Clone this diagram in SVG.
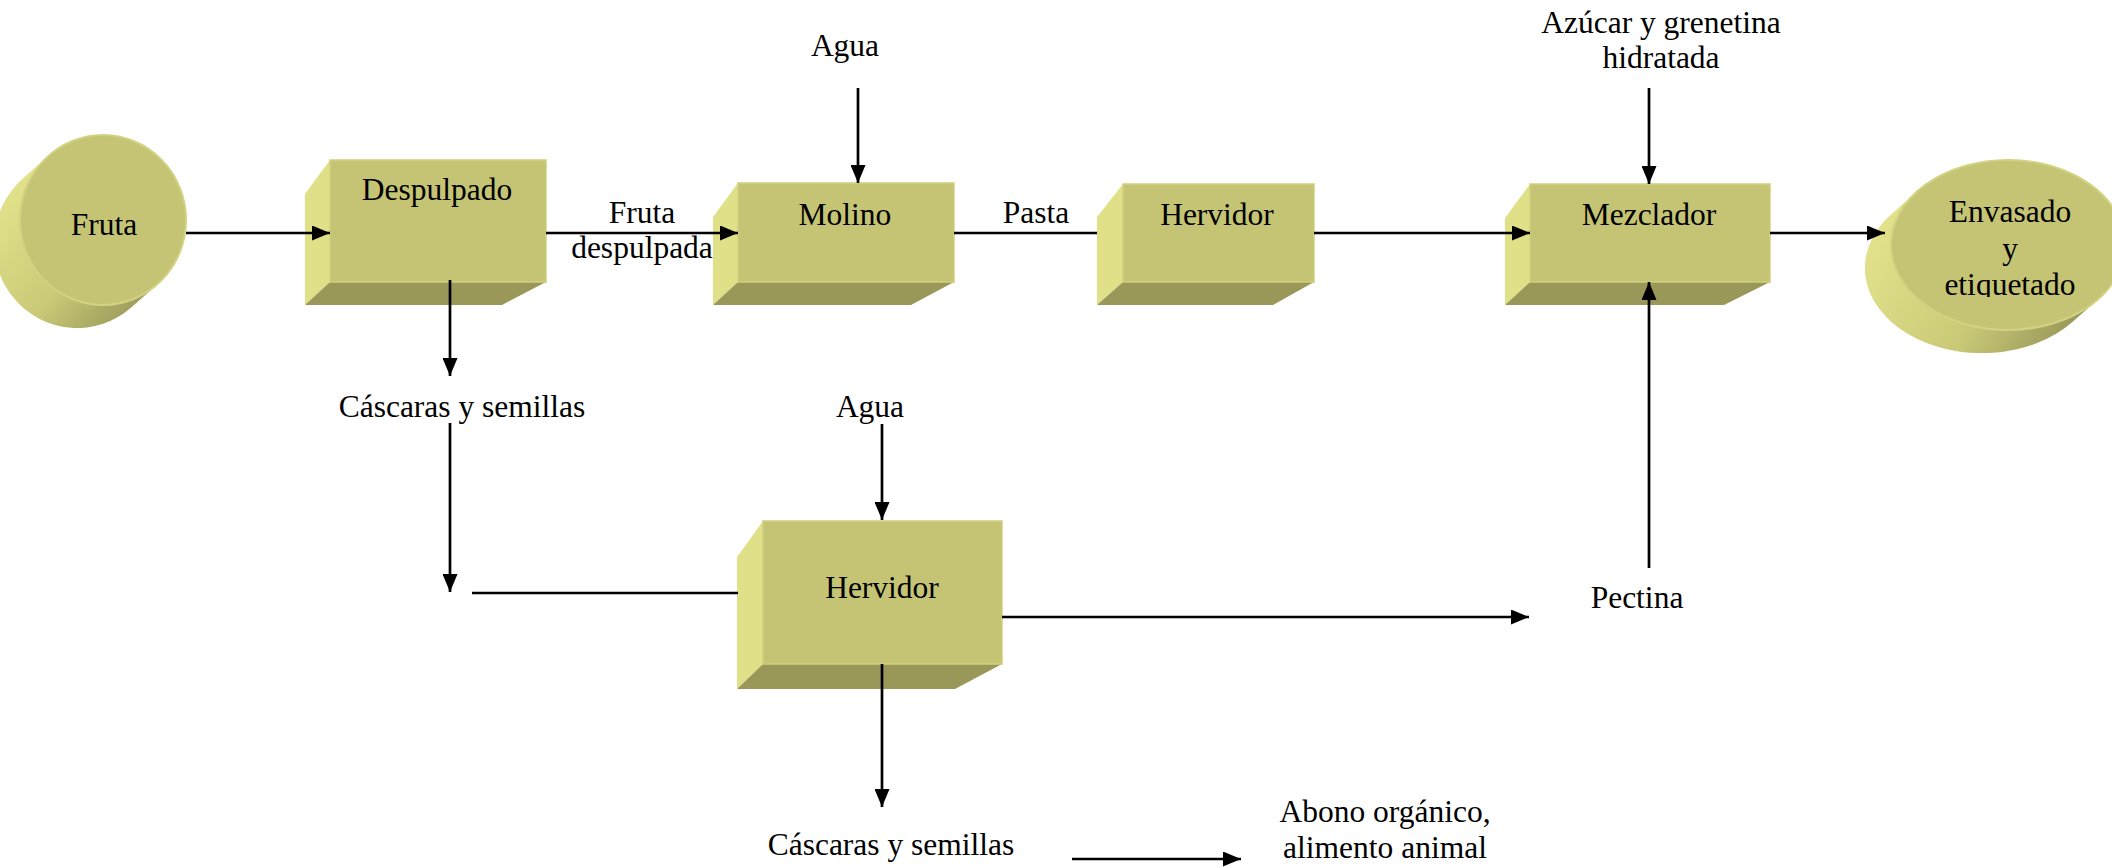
<svg xmlns="http://www.w3.org/2000/svg" width="2112" height="868" viewBox="0 0 2112 868">
  <style>
    text { font-family: "Liberation Serif", "Times New Roman", serif; font-size: 31.5px; fill: #000; text-anchor: middle; }
    .front { fill: #C4C474; stroke: #CFD07E; stroke-width: 1.5; }
    .left { fill: #E0E089; }
    .bottom { fill: #9A9858; }
    .cyl-front { fill: #C4C474; stroke: #D2D382; stroke-width: 2; }
    .conn { stroke: #000; stroke-width: 2.7; fill: none; }
    .arrow { marker-end: url(#head); }
  </style>
  <defs>
    <marker id="head" markerUnits="userSpaceOnUse" markerWidth="18" markerHeight="15" refX="18" refY="7.5" orient="auto">
      <path d="M0,0 L18,7.5 L0,15 Z" fill="#000"/>
    </marker>
    <linearGradient id="sideFruta" gradientUnits="userSpaceOnUse" x1="10" y1="190" x2="150" y2="315">
      <stop offset="0" stop-color="#E2E28C"/>
      <stop offset="0.55" stop-color="#C9C977"/>
      <stop offset="1" stop-color="#959357"/>
    </linearGradient>
    <linearGradient id="sideEnvasado" gradientUnits="userSpaceOnUse" x1="1880" y1="225" x2="2080" y2="335">
      <stop offset="0" stop-color="#E2E28C"/>
      <stop offset="0.55" stop-color="#C9C977"/>
      <stop offset="1" stop-color="#959357"/>
    </linearGradient>
    <clipPath id="envasadoText">
      <rect x="1890" y="150" width="222" height="147"/>
    </clipPath>
  </defs>

  <!-- Start: fruit cylinder -->
  <g id="fruta">
    <path d="M48.8,155.6 L22.8,178.6 A83,85 0 1 0 131.2,307.4 L157.2,284.4 Z" fill="url(#sideFruta)"/>
    <ellipse class="cyl-front" cx="103" cy="220" rx="83" ry="85"/>
    <text x="104" y="235">Fruta</text>
  </g>

  <g id="despulpado">
    <polygon class="left" points="330,160 305,194 305,305 330,282"/>
    <polygon class="bottom" points="330,282 546,282 502,305 305,305"/>
    <rect class="front" x="330" y="160" width="216" height="122"/>
    <text x="437" y="200">Despulpado</text>
  </g>

  <g id="molino">
    <polygon class="left" points="738,183 713,217 713,305 738,282"/>
    <polygon class="bottom" points="738,282 954,282 911,305 713,305"/>
    <rect class="front" x="738" y="183" width="216" height="99"/>
    <text x="845" y="225">Molino</text>
  </g>

  <g id="hervidor1">
    <polygon class="left" points="1123,184 1097,217 1097,305 1123,282"/>
    <polygon class="bottom" points="1123,282 1314,282 1273,305 1097,305"/>
    <rect class="front" x="1123" y="184" width="191" height="98"/>
    <text x="1217" y="225">Hervidor</text>
  </g>

  <g id="mezclador">
    <polygon class="left" points="1530,184 1505,218 1505,305 1530,282"/>
    <polygon class="bottom" points="1530,282 1770,282 1724,305 1505,305"/>
    <rect class="front" x="1530" y="184" width="240" height="98"/>
    <text x="1649" y="225">Mezclador</text>
  </g>

  <!-- End: packaging cylinder -->
  <g id="envasado">
    <path d="M1917.6,191 L1891.6,214 A117,85 0 1 0 2072.4,322 L2098.4,299 Z" fill="url(#sideEnvasado)"/>
    <ellipse class="cyl-front" cx="2008" cy="245" rx="117" ry="85"/>
    <g clip-path="url(#envasadoText)">
      <text x="2010" y="222">Envasado</text>
      <text x="2010" y="258.5">y</text>
      <text x="2010" y="295">etiquetado</text>
    </g>
  </g>

  <g id="hervidor2">
    <polygon class="left" points="763,521 737,557 737,689 763,664"/>
    <polygon class="bottom" points="763,664 1002,664 955,689 737,689"/>
    <rect class="front" x="763" y="521" width="239" height="143"/>
    <text x="882" y="598">Hervidor</text>
  </g>

  <!-- Stream labels -->
  <g id="labels">
    <text x="845" y="56">Agua</text>
    <text x="1661" y="33">Azúcar y grenetina</text>
    <text x="1661" y="68">hidratada</text>
    <text x="642" y="223">Fruta</text>
    <text x="642" y="258">despulpada</text>
    <text x="1036" y="223">Pasta</text>
    <text x="462" y="417">Cáscaras y semillas</text>
    <text x="870" y="417">Agua</text>
    <text x="1637" y="608">Pectina</text>
    <text x="891" y="855">Cáscaras y semillas</text>
    <text x="1385" y="822">Abono orgánico,</text>
    <text x="1385" y="858">alimento animal</text>
  </g>

  <!-- Connectors, drawn over the shapes so arrowheads stay visible -->
  <g id="connectors">
    <line class="conn arrow" x1="186" y1="233" x2="330" y2="233"/>
    <line class="conn arrow" x1="546" y1="233" x2="738" y2="233"/>
    <line class="conn arrow" x1="858" y1="88" x2="858" y2="183"/>
    <line class="conn" x1="954" y1="233" x2="1097" y2="233"/>
    <line class="conn arrow" x1="1314" y1="233" x2="1530" y2="233"/>
    <line class="conn arrow" x1="1649" y1="88" x2="1649" y2="184"/>
    <line class="conn arrow" x1="1770" y1="233" x2="1885" y2="233"/>
    <line class="conn arrow" x1="450" y1="280" x2="450" y2="376"/>
    <line class="conn arrow" x1="450" y1="423" x2="450" y2="592"/>
    <line class="conn" x1="472" y1="593" x2="738" y2="593"/>
    <line class="conn arrow" x1="882" y1="424" x2="882" y2="520"/>
    <line class="conn arrow" x1="1002" y1="617" x2="1529" y2="617"/>
    <line class="conn arrow" x1="1649" y1="568" x2="1649" y2="282"/>
    <line class="conn arrow" x1="882" y1="664" x2="882" y2="807"/>
    <line class="conn arrow" x1="1072" y1="859" x2="1241" y2="859"/>
  </g>
</svg>
